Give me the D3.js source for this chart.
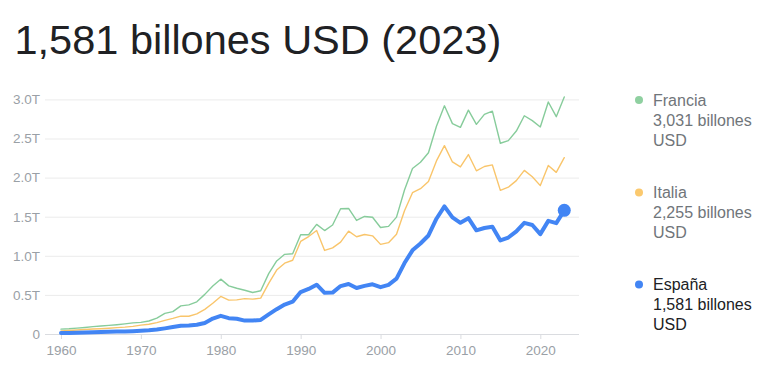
<!DOCTYPE html>
<html><head><meta charset="utf-8">
<script src="https://cdn.jsdelivr.net/npm/d3@7"></script>
<style>
html,body{margin:0;padding:0;background:#fff;}
svg{display:block;font-family:Arial,"Liberation Sans",sans-serif;}
</style></head>
<body><svg id="c" width="777" height="380"></svg>
<script>
const years = d3.range(1960, 2024);
// GDP in billions USD
const francia = [62.2,67.5,75.3,84.0,94.0,101.5,110.0,118.8,129.8,141.9,148.5,165.9,203.5,264.4,286.0,360.0,372.8,411.0,506.7,613.5,701.3,615.6,584.9,559.9,530.7,553.1,771.5,934.2,1018.8,1025.5,1269.2,1269.3,1401.5,1322.8,1393.9,1601.1,1605.7,1452.1,1503.1,1492.6,1362.2,1376.5,1494.3,1840.5,2115.7,2196.1,2318.6,2657.2,2918.4,2690.2,2642.6,2862.7,2681.4,2808.5,2849.3,2439.2,2472.3,2595.2,2790.9,2728.9,2647.9,2966.4,2779.1,3031.0];
const italia = [40.4,44.8,50.4,57.7,63.2,67.9,73.6,81.4,87.9,97.0,113.0,124.0,144.8,174.9,199.0,227.7,227.0,257.6,315.0,392.4,480.3,433.8,436.9,452.6,445.6,458.6,646.3,817.8,905.7,943.1,1183.8,1246.2,1323.2,1068.9,1102.0,1174.7,1315.0,1243.4,1272.6,1255.3,1146.0,1168.1,1276.8,1577.2,1806.6,1858.2,1949.6,2213.1,2408.4,2199.9,2136.1,2294.6,2086.9,2141.9,2162.0,1836.6,1877.1,1961.8,2091.9,2011.3,1897.5,2155.4,2066.9,2254.9];
const espana = [12.4,14.0,16.1,19.3,21.9,25.2,29.1,31.6,31.5,36.3,40.9,46.7,56.5,72.2,88.8,106.0,108.5,118.4,141.1,197.2,232.8,202.8,195.4,171.3,172.3,180.3,250.7,317.6,375.9,413.6,536.6,576.5,630.4,526.0,529.6,612.9,640.1,587.8,615.1,635.8,598.4,629.1,708.6,907.3,1069.8,1157.5,1260.0,1474.1,1631.7,1491.5,1422.1,1480.7,1325.8,1355.1,1371.8,1196.2,1233.6,1312.5,1421.7,1394.3,1276.9,1446.5,1417.8,1581.0];
const seriesNames = ["Francia","Italia","España"];
const legendValues = ["3,031 billones","2,255 billones","1,581 billones"];
const yTicks = [0, 500, 1000, 1500, 2000, 2500, 3000];
const yTickLabels = ["0","0.5T","1.0T","1.5T","2.0T","2.5T","3.0T"];
const xTicks = [1960,1970,1980,1990,2000,2010,2020];
const title = "1,581 billones USD (2023)";

const svg = d3.select("#c");
const x = d3.scaleLinear().domain([1960, 2020]).range([61, 540.3]);
const y = d3.scaleLinear().domain([0, 3000]).range([334, 99.4]);

svg.append("text").attr("x", 14.5).attr("y", 54).attr("font-size", 41.5)
  .attr("fill", "#202124").text(title);

// grid
const yAxis = d3.axisLeft(y).tickValues(yTicks).tickSize(-(579-45)).tickFormat((d,i)=>yTickLabels[i]);
const gy = svg.append("g").attr("transform","translate(45,0)").call(yAxis);
gy.select(".domain").remove();
gy.selectAll(".tick line").attr("stroke","#ebebeb").attr("stroke-width",1);
gy.selectAll(".tick text").attr("x",-5).attr("fill","#9aa0a6").attr("font-size",13.5)
  .attr("font-family","Arial,'Liberation Sans',sans-serif");

const xAxis = d3.axisBottom(x).tickValues(xTicks).tickSize(5).tickPadding(6).tickFormat(d3.format("d"));
const gx = svg.append("g").attr("transform","translate(0,334)").call(xAxis);
gx.select(".domain").remove();
gx.selectAll(".tick line").attr("stroke","#dadce0");
gx.selectAll(".tick text").attr("fill","#9aa0a6").attr("font-size",13.5)
  .attr("font-family","Arial,'Liberation Sans',sans-serif");
svg.append("line").attr("x1",45).attr("x2",579).attr("y1",334.5).attr("y2",334.5).attr("stroke","#dadce0");

const line = d3.line().x((d,i)=>x(years[i])).y(d=>y(d));
const data = [francia, italia, espana];
const colors = ["#87cc9b","#f9c56b","#4285f4"];
const widths = [1.4,1.4,4];
data.forEach((s,k)=>{
  svg.append("path").datum(s).attr("d", line).attr("fill","none")
    .attr("stroke", colors[k]).attr("stroke-width", widths[k])
    .attr("stroke-linejoin","round").attr("stroke-linecap","round");
});
svg.append("circle").attr("cx", x(2023)).attr("cy", y(espana[espana.length-1])).attr("r",6.5).attr("fill","#4285f4");

// legend
const legendTop = [100, 192.5, 284.5];
const dotColors = ["#8fd0a0","#fbc96e","#4285f4"];
const textColors = ["#70757a","#70757a","#202124"];
seriesNames.forEach((n,k)=>{
  const g = svg.append("g");
  g.append("circle").attr("cx",639).attr("cy",legendTop[k]).attr("r",4).attr("fill",dotColors[k]);
  const t = g.append("text").attr("x",653).attr("font-size",16).attr("fill",textColors[k]);
  [n, legendValues[k], "USD"].forEach((s,j)=>{
    t.append("tspan").attr("x",653).attr("y",legendTop[k]+5.7+j*20).text(s);
  });
});
</script></body></html>
